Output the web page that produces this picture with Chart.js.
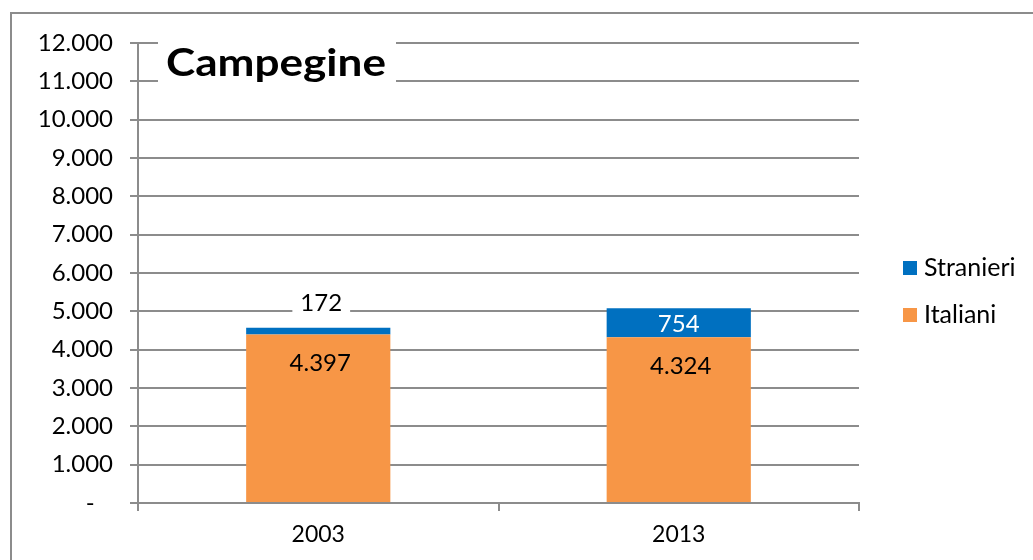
<!DOCTYPE html>
<html>
<head>
<meta charset="utf-8">
<script src="https://cdn.jsdelivr.net/npm/chart.js@4.4.0/dist/chart.umd.min.js"></script>
<style>
  html, body { margin: 0; padding: 0; background: #fff; }
  #wrap { position: relative; width: 1033px; height: 560px; overflow: hidden; }
  #frame { position: absolute; left: 10px; top: 12px; width: 1060px; height: 600px; border: 2px solid #8c8c8c; box-sizing: border-box; }
  #myChart { position: absolute; left: 0; top: 0; }
</style>
</head>
<body>
<div id="wrap">
  <div id="frame"></div>
  <canvas id="myChart" width="1033" height="560"></canvas>
</div>
<script>
const chartTitle = 'Campegine';
const years = ['2003', '2013'];
const italiani = [4397, 4324];
const stranieri = [172, 754];
const yMax = 12000;
const yStep = 1000;

const FONT = 'Lato, "Open Sans", sans-serif';
const ORANGE = '#F79646';
const BLUE = '#0070C0';
const GRID = '#8c8c8c';

function fmt(v) {
  if (v === 0) return '-   ';
  return String(v).replace(/\B(?=(\d{3})+(?!\d))/g, '.');
}

// labels, title and legend drawn on top of the chart
const extras = {
  id: 'extras',
  afterDatasetsDraw(chart) {
    const ctx = chart.ctx;
    const area = chart.chartArea;
    ctx.save();
    ctx.font = '24px ' + FONT;
    ctx.textAlign = 'center';
    ctx.textBaseline = 'middle';

    const orangeMeta = chart.getDatasetMeta(0);
    const blueMeta = chart.getDatasetMeta(1);
    orangeMeta.data.forEach((bar, i) => {
      ctx.fillStyle = '#000';
      ctx.fillText(fmt(italiani[i]), bar.x + 2, bar.y + 29);
    });
    blueMeta.data.forEach((bar, i) => {
      const h = bar.base - bar.y;
      if (h > 24) {
        ctx.fillStyle = '#fff';
        ctx.fillText(fmt(stranieri[i]), bar.x, (bar.y + bar.base) / 2 + 1);
      } else {
        const w = ctx.measureText(fmt(stranieri[i])).width + 16;
        const cy = bar.y - 25;
        ctx.fillStyle = '#fff';
        ctx.fillRect(bar.x + 3 - w / 2, cy - 13, w, 26);
        ctx.fillStyle = '#000';
        ctx.fillText(fmt(stranieri[i]), bar.x + 3, cy);
      }
    });

    // title box
    ctx.font = 'bold 38px ' + FONT;
    const natural = ctx.measureText(chartTitle).width;
    const tw = 220;
    const tx = area.left + 28;
    ctx.fillStyle = '#fff';
    ctx.fillRect(tx - 8, area.top - 4, tw + 18, 50);
    ctx.fillStyle = '#000';
    ctx.textAlign = 'left';
    ctx.save();
    ctx.translate(tx, area.top + 21);
    ctx.scale(tw / natural, 1);
    ctx.fillText(chartTitle, 0, 0);
    ctx.restore();

    // legend
    ctx.font = '25px ' + FONT;
    const items = [[chart.data.datasets[1].label, BLUE], [chart.data.datasets[0].label, ORANGE]];
    items.forEach((it, k) => {
      const y = 268 + k * 47;
      ctx.fillStyle = it[1];
      ctx.fillRect(903, y - 7, 14, 14);
      ctx.fillStyle = '#000';
      ctx.fillText(it[0], 924, y);
    });
    ctx.restore();
  }
};

const ctx = document.getElementById('myChart').getContext('2d');
window.myChartInstance = new Chart(ctx, {
  type: 'bar',
  data: {
    labels: years,
    datasets: [
      { label: 'Italiani', data: italiani, backgroundColor: ORANGE, barPercentage: 0.4, categoryPercentage: 1 },
      { label: 'Stranieri', data: stranieri, backgroundColor: BLUE, barPercentage: 0.4, categoryPercentage: 1 }
    ]
  },
  options: {
    responsive: false,
    animation: false,
    layout: { padding: { left: 30, right: 174, top: 43, bottom: 0 } },
    scales: {
      x: {
        stacked: true,
        offset: true,
        grid: { offset: true, drawOnChartArea: false, drawTicks: true, tickLength: 8, color: GRID, lineWidth: 2 },
        border: { display: true, color: GRID, width: 2 },
        ticks: { color: '#000', font: { family: FONT, size: 23 }, padding: 10 },
        afterFit(scale) { scale.height = 57; }
      },
      y: {
        stacked: true,
        min: 0,
        max: yMax,
        grid: { color: GRID, lineWidth: 2, tickLength: 8 },
        border: { display: true, color: GRID, width: 2 },
        ticks: {
          stepSize: yStep,
          color: '#000',
          padding: 17,
          font: { family: FONT, size: 24 },
          callback: v => fmt(v)
        },
        afterFit(scale) { scale.width = 108; }
      }
    },
    plugins: {
      legend: { display: false },
      tooltip: { enabled: false }
    }
  },
  plugins: [extras]
});
</script>
</body>
</html>
